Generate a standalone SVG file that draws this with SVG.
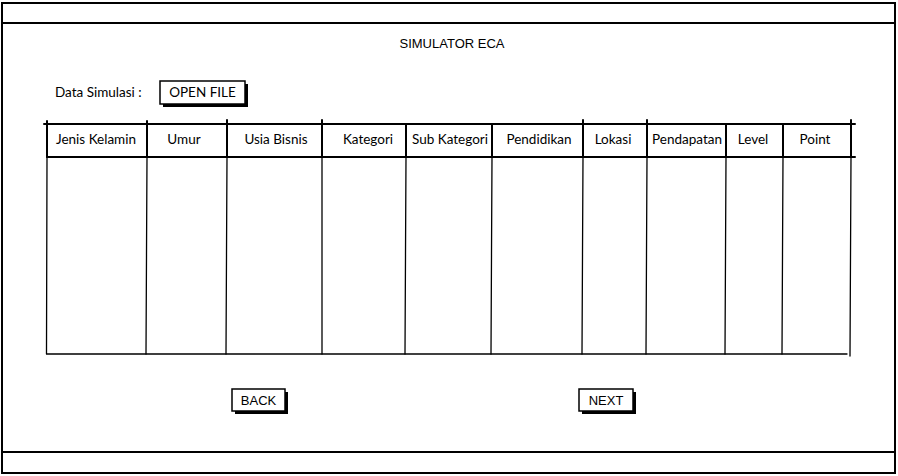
<svg xmlns="http://www.w3.org/2000/svg" width="898" height="476" viewBox="0 0 898 476">
<style>
.ln{stroke:#000;stroke-width:2;fill:none;stroke-linecap:round}
.th{stroke:#000;stroke-width:1.3;fill:none;stroke-linecap:round}
.t{font-family:Lato,"Liberation Sans",sans-serif;font-size:13.5px;fill:#000}
.bt{font-family:"Liberation Sans",Arial,sans-serif;font-size:13px;fill:#000}
.btn{fill:#fff;stroke:#000;stroke-width:1.5}
.sh{fill:#000}
</style>
<rect x="0" y="0" width="898" height="476" fill="#fff"/>
<g id="window">
<rect x="2" y="3" width="893" height="470" class="ln"/>
<line x1="2" y1="23" x2="895" y2="23" class="ln"/>
<line x1="2" y1="452" x2="895" y2="452" class="ln"/>
</g>
<g id="title"><text x="452" y="48" text-anchor="middle" class="bt">SIMULATOR ECA</text></g>
<g id="label-data"><text x="55" y="97" class="t">Data Simulasi :</text></g>
<g id="btn-open">
<rect x="163" y="84" width="85" height="23" class="sh"/>
<rect x="160" y="81" width="85" height="23" class="btn"/>
<text x="202.5" y="97" text-anchor="middle" class="t">OPEN FILE</text>
</g>
<g id="table">
<line x1="44" y1="124" x2="855" y2="124" class="ln"/>
<line x1="47" y1="157" x2="855" y2="157" class="ln"/>
<line x1="47" y1="354" x2="847" y2="354" class="th"/>
<g class="ln">
<line x1="47" y1="121" x2="47" y2="157"/>
<line x1="147" y1="121" x2="147" y2="157"/>
<line x1="227" y1="120" x2="227" y2="157"/>
<line x1="322" y1="120" x2="322" y2="157"/>
<line x1="406" y1="124" x2="406" y2="157"/>
<line x1="492" y1="124" x2="492" y2="157"/>
<line x1="583" y1="120" x2="583" y2="157"/>
<line x1="647" y1="120" x2="647" y2="157"/>
<line x1="726" y1="124" x2="726" y2="157"/>
<line x1="783" y1="124" x2="783" y2="157"/>
<line x1="851" y1="120" x2="851" y2="157"/>
</g>
<g class="th">
<line x1="47" y1="157" x2="46.5" y2="354"/>
<line x1="147" y1="157" x2="146" y2="354"/>
<line x1="227" y1="157" x2="226" y2="354"/>
<line x1="322" y1="157" x2="322" y2="354"/>
<line x1="406" y1="157" x2="405" y2="354"/>
<line x1="492" y1="157" x2="491" y2="354"/>
<line x1="583" y1="157" x2="582" y2="354"/>
<line x1="647" y1="157" x2="646" y2="354"/>
<line x1="726" y1="157" x2="725" y2="354"/>
<line x1="783" y1="157" x2="782" y2="354"/>
<line x1="851" y1="157" x2="850" y2="356"/>
</g>
<text x="96" y="144" text-anchor="middle" class="t">Jenis Kelamin</text>
<text x="184" y="144" text-anchor="middle" class="t">Umur</text>
<text x="276" y="144" text-anchor="middle" class="t">Usia Bisnis</text>
<text x="368" y="144" text-anchor="middle" class="t">Kategori</text>
<text x="450" y="144" text-anchor="middle" class="t">Sub Kategori</text>
<text x="539" y="144" text-anchor="middle" class="t">Pendidikan</text>
<text x="613" y="144" text-anchor="middle" class="t">Lokasi</text>
<text x="687" y="144" text-anchor="middle" class="t">Pendapatan</text>
<text x="753" y="144" text-anchor="middle" class="t">Level</text>
<text x="815" y="144" text-anchor="middle" class="t">Point</text>
</g>
<g id="btn-back">
<rect x="235" y="392" width="53" height="22" class="sh"/>
<rect x="232" y="389" width="53" height="22" class="btn"/>
<text x="258.5" y="405" text-anchor="middle" class="bt">BACK</text>
</g>
<g id="btn-next">
<rect x="582" y="392" width="54" height="22" class="sh"/>
<rect x="579" y="389" width="54" height="22" class="btn"/>
<text x="606" y="405" text-anchor="middle" class="bt">NEXT</text>
</g>
</svg>
